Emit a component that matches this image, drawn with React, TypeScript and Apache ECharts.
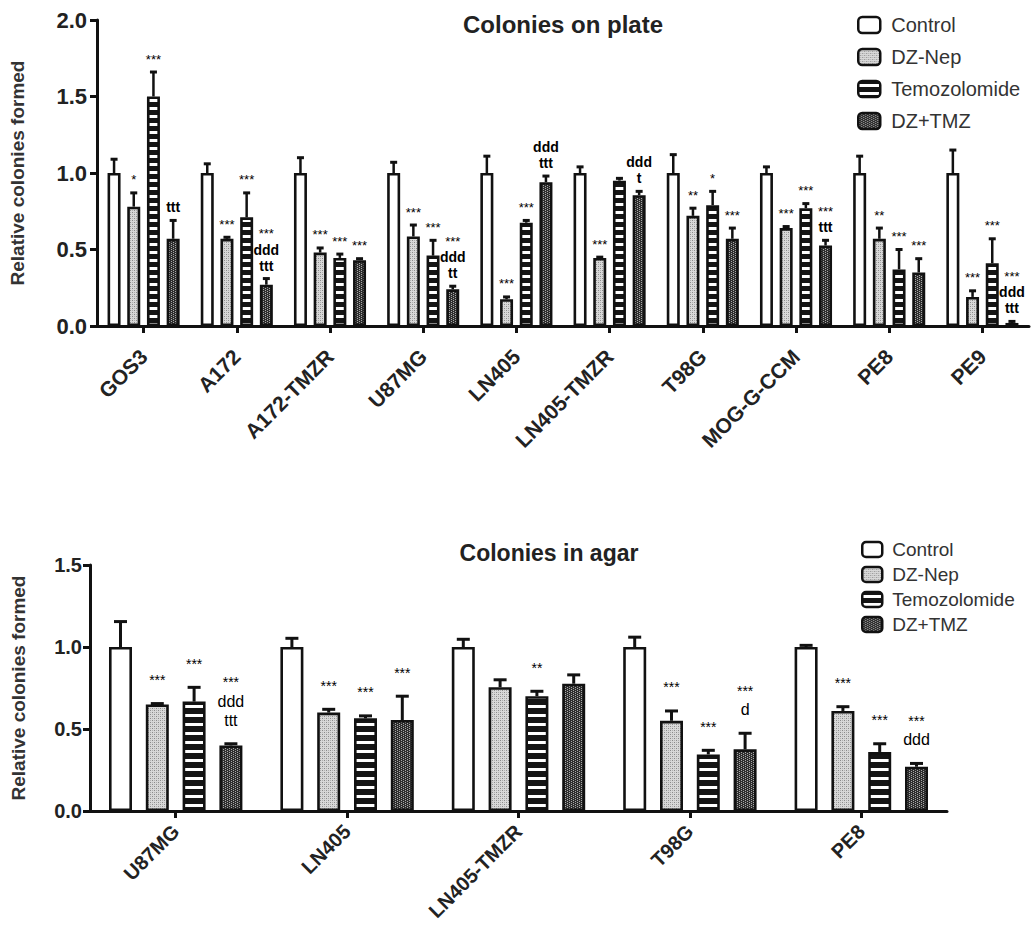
import React, { useEffect, useRef } from 'react';
import * as echarts from 'echarts';

const FONT = '"Liberation Sans", Arial, Helvetica, sans-serif';

const treatments = ['Control', 'DZ-Nep', 'Temozolomide', 'DZ+TMZ'];

// ---------- Top chart: Colonies on plate ----------
const topCategories = ['GOS3', 'A172', 'A172-TMZR', 'U87MG', 'LN405', 'LN405-TMZR', 'T98G', 'MOG-G-CCM', 'PE8', 'PE9'];
const topControl = [1.0, 1.0, 1.0, 1.0, 1.0, 1.0, 1.0, 1.0, 1.0, 1.0];
const topControlErr = [1.09, 1.06, 1.10, 1.07, 1.11, 1.04, 1.12, 1.04, 1.11, 1.15];
const topDzNep = [0.78, 0.57, 0.48, 0.585, 0.175, 0.445, 0.72, 0.64, 0.57, 0.19];
const topDzNepErr = [0.87, 0.58, 0.51, 0.66, 0.19, 0.45, 0.77, 0.65, 0.64, 0.23];
const topTmz = [1.5, 0.71, 0.445, 0.46, 0.675, 0.95, 0.79, 0.77, 0.37, 0.41];
const topTmzErr = [1.66, 0.87, 0.47, 0.56, 0.69, 0.965, 0.88, 0.8, 0.5, 0.57];
const topDzTmz = [0.57, 0.27, 0.43, 0.24, 0.94, 0.855, 0.57, 0.526, 0.35, 0.02];
const topDzTmzErr = [0.69, 0.31, 0.44, 0.26, 0.98, 0.88, 0.64, 0.56, 0.44, 0.03];
const topControlSig = ['', '', '', '', '', '', '', '', '', ''];
const topDzNepSig = ['*', '***', '***', '***', '***', '***', '**', '***', '**', '***'];
const topTmzSig = ['***', '***', '***', '***', '***', '', '*', '***', '***', '***'];
const topDzTmzSig = ['ttt', '***\nddd\nttt', '***', '***\nddd\ntt', 'ddd\nttt', 'ddd\nt', '***', '***\nttt', '***', '***\nddd\nttt'];
const topYTicks = [0, 0.5, 1.0, 1.5, 2.0];

// ---------- Bottom chart: Colonies in agar ----------
const botCategories = ['U87MG', 'LN405', 'LN405-TMZR', 'T98G', 'PE8'];
const botControl = [1.0, 1.0, 1.0, 1.0, 1.0];
const botControlErr = [1.155, 1.053, 1.047, 1.06, 1.01];
const botDzNep = [0.65, 0.6, 0.755, 0.55, 0.61];
const botDzNepErr = [0.655, 0.62, 0.8, 0.61, 0.636];
const botTmz = [0.667, 0.565, 0.7, 0.345, 0.36];
const botTmzErr = [0.754, 0.58, 0.73, 0.37, 0.41];
const botDzTmz = [0.4, 0.555, 0.776, 0.376, 0.27];
const botDzTmzErr = [0.41, 0.7, 0.83, 0.474, 0.29];
const botControlSig = ['', '', '', '', ''];
const botDzNepSig = ['***', '***', '', '***', '***'];
const botTmzSig = ['***', '***', '**', '***', '***'];
const botDzTmzSig = ['***\nddd\nttt', '***', '', '***\nd', '***\nddd'];
const botYTicks = [0, 0.5, 1.0, 1.5];

function makePattern(w: number, h: number, draw: (ctx: CanvasRenderingContext2D) => void) {
  const c = document.createElement('canvas');
  c.width = w;
  c.height = h;
  const ctx = c.getContext('2d') as CanvasRenderingContext2D;
  draw(ctx);
  return { image: c, repeat: 'repeat', imageWidth: w, imageHeight: h } as any;
}

function px(ctx: CanvasRenderingContext2D, x: number, y: number, col: string) {
  ctx.fillStyle = col;
  ctx.fillRect(x, y, 1, 1);
}

function richify(s: string) {
  return s
    .split('\n')
    .map((l) => (/^\*+$/.test(l) ? `{a|${l}}` : `{b|${l}}`))
    .join('\n');
}

export default function App() {
  const ref = useRef<HTMLDivElement>(null);

  useEffect(() => {
    if (!ref.current) return;
    const chart = echarts.init(ref.current, undefined, { renderer: 'svg' });

    const white = '#ffffff';
    const dzPat = makePattern(4, 4, (ctx) => {
      ctx.fillStyle = '#d8d8d8';
      ctx.fillRect(0, 0, 4, 4);
      px(ctx, 0, 0, '#8a8a8a');
      px(ctx, 2, 2, '#8a8a8a');
      px(ctx, 2, 0, '#b0b0b0');
      px(ctx, 0, 2, '#b0b0b0');
    });
    const tmzPatTop = makePattern(4, 8, (ctx) => {
      ctx.fillStyle = '#151515';
      ctx.fillRect(0, 0, 4, 8);
      ctx.fillStyle = '#ffffff';
      ctx.fillRect(0, 3, 4, 3);
    });
    const tmzPatBot = makePattern(4, 9, (ctx) => {
      ctx.fillStyle = '#151515';
      ctx.fillRect(0, 0, 4, 9);
      ctx.fillStyle = '#ffffff';
      ctx.fillRect(0, 3, 4, 3);
    });
    const dzTmzPat = makePattern(4, 4, (ctx) => {
      ctx.fillStyle = '#2e2e2e';
      ctx.fillRect(0, 0, 4, 4);
      px(ctx, 1, 0, '#a8a8a8');
      px(ctx, 3, 1, '#a8a8a8');
      px(ctx, 1, 2, '#a8a8a8');
      px(ctx, 3, 3, '#a8a8a8');
    });

    const TOP_BW = 13;
    const TOP_GAP = 0.515;
    const BOT_BW = 23;
    const BOT_GAP = 0.6;

    const barSeries = (name: string, data: number[], color: any, g: number, bw: number, gap: number) => ({
      type: 'bar',
      name,
      data,
      xAxisIndex: g,
      yAxisIndex: g,
      barWidth: bw,
      barGap: `${gap * 100}%`,
      itemStyle: { color, borderColor: '#111', borderWidth: 2.6 },
      emphasis: { disabled: true },
      silent: true,
      z: 2,
    });

    const errSeries = (
      vals: number[],
      errs: number[],
      sigs: string[],
      idx: number,
      g: number,
      bw: number,
      gap: number,
      cfg: { capW: number; lw: number; lift: number; rich: any }
    ) => ({
      type: 'custom',
      xAxisIndex: g,
      yAxisIndex: g,
      silent: true,
      z: 3,
      encode: { x: 0, y: [1, 2] },
      data: vals.map((v, i) => [i, v, errs[i]]),
      renderItem: (params: any, api: any) => {
        const i = api.value(0);
        const v = api.value(1);
        const e = api.value(2);
        const base = api.coord([i, v]);
        const top = api.coord([i, e]);
        const pitch = bw * (1 + gap);
        const x = base[0] + (idx - 1.5) * pitch;
        const children: any[] = [
          {
            type: 'line',
            shape: { x1: x, y1: base[1], x2: x, y2: top[1] },
            style: { stroke: '#111', lineWidth: cfg.lw },
          },
          {
            type: 'line',
            shape: { x1: x - cfg.capW / 2, y1: top[1], x2: x + cfg.capW / 2, y2: top[1] },
            style: { stroke: '#111', lineWidth: 3 },
          },
        ];
        const s = sigs[params.dataIndex];
        if (s) {
          children.push({
            type: 'text',
            x,
            y: top[1] - cfg.lift,
            style: {
              text: richify(s),
              rich: cfg.rich,
              align: 'center',
              verticalAlign: 'bottom',
              fontFamily: FONT,
            },
          });
        }
        return { type: 'group', children };
      },
    });

    const topCfg = {
      capW: 7,
      lw: 2.5,
      lift: 5,
      rich: {
        a: { fontSize: 13, color: '#888', lineHeight: 16, fontFamily: FONT },
        b: { fontSize: 14, fontWeight: 'bold', color: '#444', lineHeight: 16, fontFamily: FONT },
      },
    };
    const botCfg = {
      capW: 13,
      lw: 3,
      lift: 14,
      rich: {
        a: { fontSize: 14, color: '#888', lineHeight: 19, fontFamily: FONT },
        b: { fontSize: 16, color: '#555', lineHeight: 19, fontFamily: FONT },
      },
    };

    const axisLine = { show: true, lineStyle: { color: '#111', width: 3 } };
    const axisTick = { show: true, length: 7, lineStyle: { color: '#111', width: 3 } };

    const option: any = {
      animation: false,
      backgroundColor: '#ffffff',
      textStyle: { fontFamily: FONT },
      title: [
        {
          text: 'Colonies on plate',
          left: 558,
          top: 7,
          textAlign: 'center',
          textStyle: { fontSize: 24, fontWeight: 'bold', color: '#222', fontFamily: FONT },
        },
        {
          text: 'Colonies in agar',
          left: 544,
          top: 536,
          textAlign: 'center',
          textStyle: { fontSize: 23, fontWeight: 'bold', color: '#222', fontFamily: FONT },
        },
      ],
      legend: [
        {
          orient: 'vertical',
          left: 857,
          top: 15,
          padding: 0,
          itemWidth: 22,
          itemHeight: 16,
          itemGap: 12,
          data: treatments,
          selectedMode: false,
          itemStyle: { borderColor: '#111', borderWidth: 2.5 },
          textStyle: { fontSize: 20, color: '#333', fontFamily: FONT, padding: [0, 0, 0, 6] },
        },
        {
          orient: 'vertical',
          left: 861,
          top: 540,
          padding: 0,
          itemWidth: 20,
          itemHeight: 15,
          itemGap: 6,
          data: treatments,
          selectedMode: false,
          itemStyle: { borderColor: '#111', borderWidth: 2.5 },
          textStyle: { fontSize: 19, color: '#333', fontFamily: FONT, padding: [0, 0, 0, 5] },
        },
      ],
      grid: [
        { left: 97, top: 20, width: 932, height: 306, containLabel: false },
        { left: 90, top: 565, width: 857, height: 246, containLabel: false },
      ],
      xAxis: [
        {
          gridIndex: 0,
          type: 'category',
          data: topCategories,
          boundaryGap: true,
          axisLine,
          axisTick: { ...axisTick, alignWithLabel: true },
          axisLabel: { rotate: 45, fontSize: 21, fontWeight: 'bold', color: '#222', margin: 27, fontFamily: FONT, interval: 0 },
          splitLine: { show: false },
        },
        {
          gridIndex: 1,
          type: 'category',
          data: botCategories,
          boundaryGap: true,
          axisLine,
          axisTick: { ...axisTick, alignWithLabel: true },
          axisLabel: { rotate: 45, fontSize: 20, fontWeight: 'bold', color: '#222', margin: 17, fontFamily: FONT, interval: 0 },
          splitLine: { show: false },
        },
      ],
      yAxis: [
        {
          gridIndex: 0,
          type: 'value',
          min: topYTicks[0],
          max: topYTicks[topYTicks.length - 1],
          interval: topYTicks[1] - topYTicks[0],
          axisLine,
          axisTick,
          splitLine: { show: false },
          axisLabel: {
            formatter: (v: number) => v.toFixed(1),
            fontSize: 22,
            fontWeight: 'bold',
            color: '#222',
            margin: 10,
            fontFamily: FONT,
          },
          name: 'Relative colonies formed',
          nameLocation: 'middle',
          nameGap: 70,
          nameTextStyle: { fontSize: 19, fontWeight: 'bold', color: '#333', fontFamily: FONT },
        },
        {
          gridIndex: 1,
          type: 'value',
          min: botYTicks[0],
          max: botYTicks[botYTicks.length - 1],
          interval: botYTicks[1] - botYTicks[0],
          axisLine,
          axisTick,
          splitLine: { show: false },
          axisLabel: {
            formatter: (v: number) => v.toFixed(1),
            fontSize: 20,
            fontWeight: 'bold',
            color: '#222',
            margin: 8,
            fontFamily: FONT,
          },
          name: 'Relative colonies formed',
          nameLocation: 'middle',
          nameGap: 62,
          nameTextStyle: { fontSize: 19, fontWeight: 'bold', color: '#333', fontFamily: FONT },
        },
      ],
      series: [
        barSeries(treatments[0], topControl, white, 0, TOP_BW, TOP_GAP),
        barSeries(treatments[1], topDzNep, dzPat, 0, TOP_BW, TOP_GAP),
        barSeries(treatments[2], topTmz, tmzPatTop, 0, TOP_BW, TOP_GAP),
        barSeries(treatments[3], topDzTmz, dzTmzPat, 0, TOP_BW, TOP_GAP),
        errSeries(topControl, topControlErr, topControlSig, 0, 0, TOP_BW, TOP_GAP, topCfg),
        errSeries(topDzNep, topDzNepErr, topDzNepSig, 1, 0, TOP_BW, TOP_GAP, topCfg),
        errSeries(topTmz, topTmzErr, topTmzSig, 2, 0, TOP_BW, TOP_GAP, topCfg),
        errSeries(topDzTmz, topDzTmzErr, topDzTmzSig, 3, 0, TOP_BW, TOP_GAP, topCfg),
        barSeries(treatments[0], botControl, white, 1, BOT_BW, BOT_GAP),
        barSeries(treatments[1], botDzNep, dzPat, 1, BOT_BW, BOT_GAP),
        barSeries(treatments[2], botTmz, tmzPatBot, 1, BOT_BW, BOT_GAP),
        barSeries(treatments[3], botDzTmz, dzTmzPat, 1, BOT_BW, BOT_GAP),
        errSeries(botControl, botControlErr, botControlSig, 0, 1, BOT_BW, BOT_GAP, botCfg),
        errSeries(botDzNep, botDzNepErr, botDzNepSig, 1, 1, BOT_BW, BOT_GAP, botCfg),
        errSeries(botTmz, botTmzErr, botTmzSig, 2, 1, BOT_BW, BOT_GAP, botCfg),
        errSeries(botDzTmz, botDzTmzErr, botDzTmzSig, 3, 1, BOT_BW, BOT_GAP, botCfg),
      ],
    };

    chart.setOption(option);
    return () => {
      chart.dispose();
    };
  }, []);

  return (
    <div
      ref={ref}
      style={{ position: 'absolute', left: 0, top: 0, width: 1033, height: 927, background: '#fff' }}
    />
  );
}
